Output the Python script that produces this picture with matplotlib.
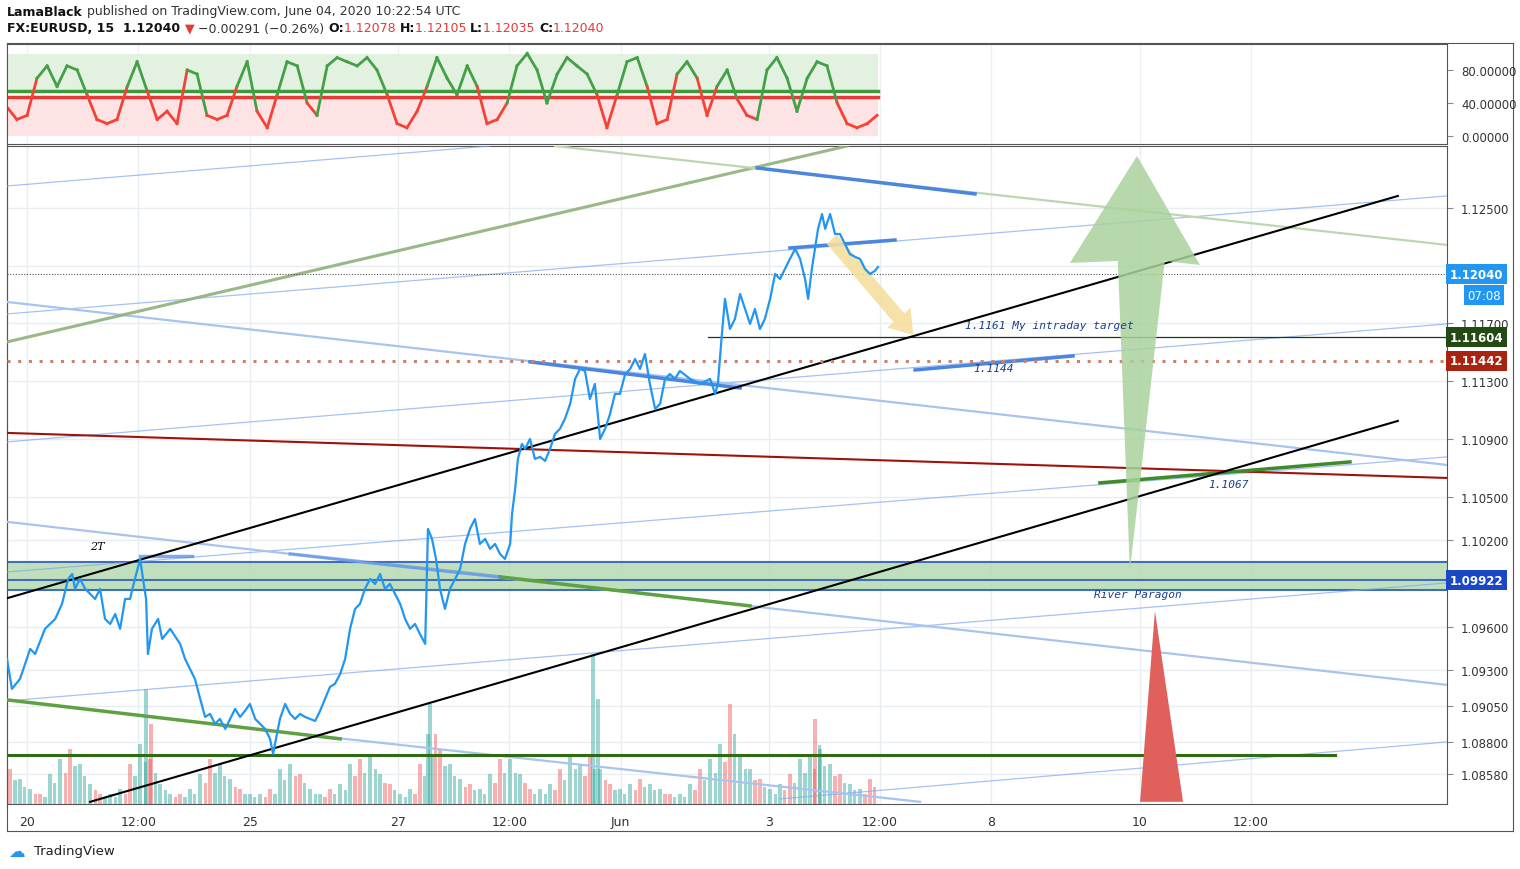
import matplotlib
matplotlib.use("Agg")
import matplotlib.pyplot as plt
import numpy as np
from matplotlib.patches import Polygon, Rectangle

# ---------------- data ----------------
hours = [-6.5,-4.9,-2.3,1.0,2.6,5.8,9.1,11.3,13.3,14.6,15.5,17.1,18.8,22.0,23.6,25.2,26.9,28.5,30.1,31.7,33.3,34.9,36.6,37.5,38.5,39.1,40.4,42.4,43.7,46.3,49.5,51.1,52.7,54.3,56.0,57.6,59.2,60.8,62.4,64.1,65.7,67.3,68.9,70.5,72.1,73.8,75.4,77.0,78.6,79.6,80.2,81.8,83.5,85.1,86.7,88.3,89.9,93.2,94.8,96.4,98.0,99.6,101.3,102.9,104.5,106.1,107.7,109.3,111.0,112.6,114.2,115.8,117.4,120.7,122.3,123.9,125.5,127.1,128.8,129.7,131.0,132.3,133.6,135.2,136.8,138.5,140.1,141.7,143.3,144.9,146.5,148.2,149.8,151.4,153.0,154.6,156.3,156.9,157.9,158.8,160.1,161.1,162.7,164.3,166.0,167.6,169.2,170.8,172.4,174.0,175.7,177.3,178.9,180.5,182.1,183.7,185.4,187.0,188.6,190.2,191.8,193.5,195.1,196.7,198.3,199.9,201.5,203.2,204.8,206.4,208.0,209.6,211.2,214.5,217.7,221.0,222.6,223.5,224.8,225.8,227.4,229.0,230.7,232.3,233.9,235.5,237.1,238.7,240.4,242.0,243.6,245.2,246.8,248.5,250.1,251.7,252.7,253.9,254.9,255.9,257.2,258.2,259.8,261.4,263.0,264.6,266.2,267.9,269.5,271.1,272.7,274.3,275.3]
price = [1.09377,1.09169,1.09238,1.09446,1.09411,1.09585,1.09654,1.09758,1.09931,1.09965,1.09862,1.09931,1.09862,1.09792,1.09862,1.09654,1.09619,1.09688,1.09585,1.09792,1.09792,1.09931,1.10069,1.09931,1.09792,1.09411,1.09585,1.09654,1.09515,1.09585,1.09481,1.09377,1.09308,1.09238,1.09100,1.08975,1.08996,1.08927,1.08961,1.08892,1.08961,1.09031,1.08975,1.09017,1.09065,1.08961,1.08927,1.08892,1.08823,1.08719,1.08788,1.08961,1.09065,1.08996,1.08961,1.08996,1.08975,1.08947,1.09017,1.09100,1.09183,1.09204,1.09273,1.09377,1.09585,1.09723,1.09758,1.09862,1.09931,1.09896,1.09965,1.09862,1.09896,1.09758,1.09654,1.09585,1.09619,1.09550,1.09481,1.10277,1.10208,1.10069,1.09862,1.09723,1.09862,1.09931,1.10000,1.10173,1.10277,1.10346,1.10173,1.10208,1.10139,1.10173,1.10104,1.10069,1.10173,1.10381,1.10554,1.10762,1.10866,1.10831,1.10900,1.10762,1.10776,1.10748,1.10831,1.10935,1.10970,1.11039,1.11143,1.11316,1.11385,1.11371,1.11177,1.11281,1.10900,1.10970,1.11073,1.11212,1.11212,1.11350,1.11385,1.11454,1.11385,1.11489,1.11281,1.11108,1.11143,1.11316,1.11350,1.11316,1.11371,1.11316,1.11281,1.11316,1.11212,1.11281,1.11627,1.11870,1.11662,1.11731,1.11904,1.11800,1.11697,1.11800,1.11662,1.11731,1.11870,1.12043,1.12008,1.12078,1.12147,1.12216,1.12147,1.12008,1.11870,1.12078,1.12216,1.12355,1.12458,1.12355,1.12458,1.12320,1.12320,1.12251,1.12181,1.12161,1.12147,1.12078,1.12043,1.12064,1.12091]

vol_hours = [-5.5,-2.3,1.0,4.2,7.4,10.7,13.9,17.1,20.4,23.6,26.9,30.1,33.3,36.6,38.5,39.8,43.1,46.3,49.5,52.7,56.0,59.2,62.4,65.7,68.9,72.1,75.4,78.6,81.8,85.1,88.3,91.6,94.8,98.0,101.3,104.5,107.7,111.0,114.2,117.4,120.7,123.9,127.1,129.7,130.4,133.6,136.8,140.1,143.3,146.5,149.8,153.0,156.3,159.5,162.7,166.0,169.2,172.4,175.7,178.9,182.1,183.1,185.4,188.6,191.8,195.1,198.3,201.5,204.8,208.0,211.2,214.5,217.7,221.0,224.2,227.4,230.7,233.9,237.1,240.4,243.6,246.8,250.1,253.3,254.9,256.5,259.8,263.0,266.2,269.5,272.7]
volume = [35,25,15,10,30,45,55,40,20,10,10,15,40,60,115,45,20,10,10,15,30,45,40,25,15,10,10,15,35,40,30,15,10,15,20,40,45,50,30,20,10,15,40,70,100,55,40,25,20,15,30,45,45,30,15,15,20,35,50,40,50,150,35,20,15,20,25,20,15,10,10,20,35,45,60,100,50,35,25,15,20,30,45,50,85,55,40,30,20,15,25]

osc_hours = [-6.5,-3.3,0.0,3.2,6.5,9.7,12.9,16.2,19.4,22.6,25.9,29.1,32.4,35.6,38.8,42.1,45.3,48.5,51.8,55.0,58.2,61.5,64.7,67.9,71.2,74.4,77.7,80.9,84.1,87.4,90.6,93.8,97.1,100.3,103.5,106.8,110.0,113.2,116.5,119.7,122.9,126.2,129.4,132.6,135.9,139.1,142.4,145.6,148.8,152.1,155.3,158.5,161.8,165.0,168.2,171.5,174.7,177.9,181.2,184.4,187.6,190.9,194.1,197.4,200.6,203.8,207.1,210.3,213.5,216.8,220.0,223.2,226.5,229.7,232.9,236.2,239.4,242.6,245.9,249.1,252.4,255.6,258.8,262.1,265.3,268.5,271.8,275.0]
osc = [35,20,25,70,85,60,85,80,50,20,15,20,60,90,55,20,30,15,80,75,25,20,25,60,90,30,10,50,90,85,40,25,85,95,90,85,95,80,50,15,10,30,60,95,70,50,85,60,15,20,40,85,100,80,40,75,95,85,75,50,10,50,90,95,60,15,20,75,90,70,25,60,80,45,25,20,80,95,70,30,70,90,85,40,15,10,15,25]

tick_hours = [0,36,72,120,156,192,240,276,312,360,396]
tick_labels = ["20","12:00","25","27","12:00","Jun","3","12:00","8","10","12:00"]
price_ticks = [1.125,1.117,1.113,1.109,1.105,1.102,1.096,1.093,1.0905,1.088,1.0858]
grid_prices = [1.125,1.121,1.117,1.113,1.109,1.105,1.102,1.096,1.093,1.0905,1.088,1.0858]

# drawn lines: (h0, p0, h1, p1, color, width, alpha)
trend_lines = [
    (-6.5,1.11766,459.4,1.12583,"#7fa8ef",0.9,0.7),
    (-6.5,1.12652,149.8,1.12929,"#7fa8ef",0.9,0.7),
    (-6.5,1.10880,459.4,1.11697,"#7fa8ef",0.9,0.7),
    (-6.5,1.09979,459.4,1.10776,"#7fa8ef",0.9,0.7),
    (-6.5,1.09086,459.4,1.09903,"#7fa8ef",0.9,0.7),
    (243.6,1.08407,459.4,1.08802,"#7fa8ef",0.9,0.7),
    (-6.5,1.11849,459.4,1.10720,"#a9c3ef",1.6,1.0),
    (-6.5,1.10326,459.4,1.09197,"#a9c3ef",1.6,1.0),
    (88.3,1.08857,288.9,1.08387,"#a9c3ef",1.6,1.0),
    (-6.5,1.11572,265.3,1.12929,"#8fb07a",2.2,0.9),
    (170.8,1.12929,459.4,1.12244,"#bcd6b0",1.6,1.0),
    (-6.5,1.10942,459.4,1.10630,"#a0110a",1.5,1.0),
    (-6.5,1.09093,101.3,1.08823,"#5ea142",2.5,1.0),
    (153.0,1.09945,233.9,1.09744,"#5ea142",2.5,1.0),
    (347.1,1.10596,428.0,1.10741,"#3f8a2a",2.5,1.0),
    (-6.5,1.08712,423.3,1.08712,"#2f6a14",2.2,1.0),
    (236.2,1.12777,306.7,1.12597,"#4a86e0",2.5,1.0),
    (246.8,1.12223,280.8,1.12278,"#4a86e0",2.5,1.0),
    (287.3,1.11378,338.4,1.11475,"#4a86e0",2.5,1.0),
    (162.7,1.11434,230.7,1.11253,"#4a86e0",2.5,1.0),
    (85.1,1.10104,153.0,1.09945,"#4a86e0",2.5,0.6),
    (36.6,1.10090,53.4,1.10090,"#4a86e0",2.5,0.7),
    (220.3,1.11604,459.4,1.11604,"#1f3a10",0.9,1.0),
    (-6.5,1.09797,443.5,1.12583,"#000000",1.5,1.0),
    (20.4,1.08387,443.5,1.11025,"#000000",1.5,1.0),
]
zone_lo, zone_mid, zone_hi = 1.09855, 1.09922, 1.10049
green_arrow = [(356.8,1.09986),(352.9,1.12133),(337.4,1.12119),(359.1,1.12860),(379.5,1.12105),(368.1,1.12133)]
red_tri = [(360.1,1.08387),(364.9,1.09709),(374.0,1.08387)]
yellow_arrow = (259.8,1.12299,287.3,1.11607)

# ---------------- figure ----------------
W, H = 1520, 870
fig = plt.figure(figsize=(15.2, 8.7), dpi=100)
fig.patch.set_facecolor("white")
xmin, xmax = -6.5, 459.4
pmin, pmax = 1.08372, 1.12929

ax = fig.add_axes([7/W, 1-805/H, 1440/W, 658/H])
ax.set_xlim(xmin, xmax); ax.set_ylim(pmin, pmax)

axv = ax.twinx()
axv.set_ylim(0, 658); axv.set_xlim(xmin, xmax)
axv.set_yticks([])
axv.patch.set_facecolor("#f6f7f9")
for t in tick_hours: axv.axvline(t, color="#e8edf1", lw=1, zorder=0)
for p in grid_prices: axv.axhline((p-pmin)/(pmax-pmin)*658, color="#e8edf1", lw=1, zorder=0)
vcol = ["#26a69a" if i % 3 else "#ef5350" for i in range(len(volume))]
for i, (h, v) in enumerate(zip(vol_hours, volume)):
    axv.bar(h, v, width=1.2, color=vcol[i], alpha=0.45, linewidth=0)
    axv.bar(h+1.6, v*0.7, width=1.0, color=vcol[(i+1) % len(vcol)], alpha=0.45, linewidth=0)
axv.set_zorder(0.5); ax.set_zorder(1); ax.patch.set_visible(False)

ax.add_patch(Rectangle((xmin, zone_lo), xmax-xmin, zone_hi-zone_lo, facecolor="#b9dcb5", alpha=0.9, edgecolor="none", zorder=1))
for p in (zone_lo, zone_mid, zone_hi):
    ax.axhline(p, color="#3f6fb8", lw=1.5, zorder=2)

for h0,p0,h1,p1,c,w,a in trend_lines:
    ax.plot([h0,h1],[p0,p1], color=c, lw=w, alpha=a, zorder=3)

ax.axhline(1.11442, color="#c98270", lw=2.2, ls=(0,(1,2.5)), zorder=3)
ax.axhline(1.12040, color="#555555", lw=0.8, ls=(0,(1,1.5)), zorder=3)

ax.annotate("", xy=yellow_arrow[2:], xytext=yellow_arrow[:2],
            arrowprops=dict(arrowstyle="simple,head_width=2.2,head_length=1.6,tail_width=1.0",
                            color="#f5dea0", alpha=0.9, lw=0), zorder=3)
ax.plot(hours, price, color="#2196f3", lw=1.6, zorder=4)
ax.add_patch(Polygon(green_arrow, closed=True, facecolor="#a9d29c", alpha=0.85, edgecolor="none", zorder=5))
ax.add_patch(Polygon(red_tri, closed=True, facecolor="#e0605c", edgecolor="none", zorder=5))

tf = dict(family="DejaVu Sans Mono", style="italic", fontsize=8, color="#1c3f8a", zorder=6)
ax.text(303.4, 1.11669, "1.1161 My intraday target", **tf)
ax.text(306.0, 1.11371, "1.1144", **tf)
ax.text(382.1, 1.10568, "1.1067", **tf)
ax.text(345.2, 1.09806, "River Paragon", **tf)
ax.text(20.4, 1.10139, "2T", family="DejaVu Serif", style="italic", fontsize=8, color="black")

ax.set_xticks(tick_hours); ax.set_xticklabels(tick_labels, fontsize=9, color="#333")
ax.tick_params(axis="x", length=0, pad=8)
ax.yaxis.tick_right()
ax.set_yticks(price_ticks)
ax.set_yticklabels([f"{p:.5f}" for p in price_ticks], fontsize=8.5, color="#333")
ax.tick_params(axis="y", length=4, color="#888", pad=6)
for s in ax.spines.values(): s.set_color("#555")
for s in axv.spines.values(): s.set_visible(False)

def tag(p, txt, bg, x=1.002):
    ax.text(x, (p-pmin)/(pmax-pmin), txt, transform=ax.transAxes, fontsize=8.5, color="white",
            fontweight="bold", va="center", ha="left",
            bbox=dict(boxstyle="square,pad=0.3", facecolor=bg, edgecolor="none"), zorder=10, clip_on=False)
tag(1.12040, "1.12040", "#2196f3")
ax.text(1.014, (1.12040-pmin)/(pmax-pmin)-0.032, "07:08", transform=ax.transAxes, fontsize=8.5, color="white",
        va="center", bbox=dict(boxstyle="square,pad=0.3", facecolor="#2196f3", edgecolor="none"), clip_on=False)
tag(1.11604, "1.11604", "#224a12")
tag(1.11442, "1.11442", "#a82310")
tag(1.09922, "1.09922", "#1a47c4")

# ---------- oscillator ----------
ax2 = fig.add_axes([7/W, 1-145/H, 1440/W, 100/H])
ax2.set_facecolor("white")
ax2.set_xlim(xmin, xmax); ax2.set_ylim(-9.7, 111.5)
ax2.fill_between([-6.5,275.3], 54, 99, color="#e3f2e0", lw=0)
ax2.fill_between([-6.5,275.3], 0, 47, color="#fde3e3", lw=0)
ax2.plot([-6.5,275.3],[54,54], color="#3d9a3a", lw=2.5)
ax2.plot([-6.5,275.3],[47,47], color="#e53935", lw=2.5)
for i in range(len(osc)-1):
    m = (osc[i]+osc[i+1])/2
    ax2.plot(osc_hours[i:i+2], osc[i:i+2], color="#43a047" if m >= 50 else "#f44336", lw=2)
for t in tick_hours: ax2.axvline(t, color="#eef0f3", lw=1, zorder=0)
ax2.yaxis.tick_right()
ax2.set_yticks([0,40,80]); ax2.set_yticklabels(["0.00000","40.00000","80.00000"], fontsize=8.5, color="#333")
ax2.set_xticks([])
ax2.tick_params(axis="y", length=4, color="#888", pad=6)
for s in ax2.spines.values(): s.set_color("#555")

# outer frame
fr = fig.add_axes([7/W, 1-832/H, 1506/W, 788/H]); fr.set_xticks([]); fr.set_yticks([])
fr.patch.set_visible(False); fr.set_zorder(-1)
for s in fr.spines.values(): s.set_color("#555")

# header with chained pieces
fig.canvas.draw()
r = fig.canvas.get_renderer()
def chain(y, parts, x0=7):
    x = x0
    for txt, col, bold in parts:
        t = fig.text(x/W, 1-y/H, txt, fontsize=9, color=col, va="center",
                     fontweight="bold" if bold else "normal")
        x += t.get_window_extent(r).width
chain(12, [("LamaBlack", "#111", True), (" published on TradingView.com, June 04, 2020 10:22:54 UTC", "#333", False)])
chain(29, [("FX:EURUSD, 15  1.12040 ", "#111", True), ("▼", "#e53935", False),
           (" −0.00291 (−0.26%) ", "#333", False), ("O:", "#111", True), ("1.12078 ", "#e53935", False),
           ("H:", "#111", True), ("1.12105 ", "#e53935", False), ("L:", "#111", True),
           ("1.12035 ", "#e53935", False), ("C:", "#111", True), ("1.12040", "#e53935", False)])
fig.text(34/W, 1-852/H, "TradingView", fontsize=9.5, va="center", color="#222")
fig.text(8/W, 1-852/H, "☁", fontsize=12, va="center", color="#2196f3")

fig.savefig("out.png", dpi=100)
